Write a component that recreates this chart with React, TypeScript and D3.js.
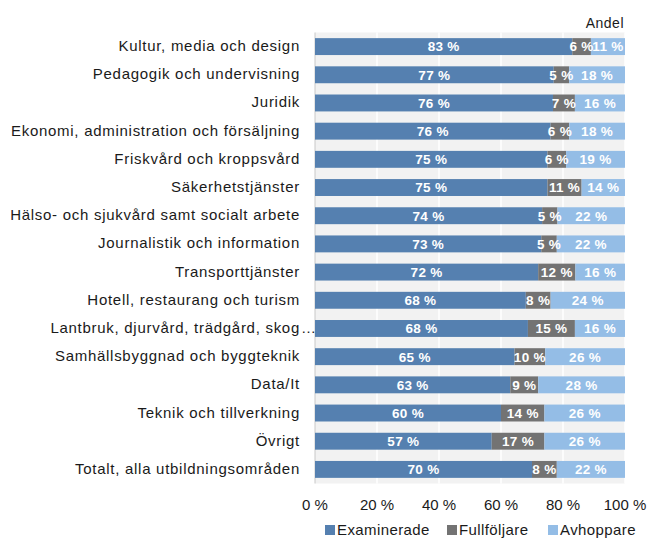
import React from "react";
import * as d3 from "d3";

const categories = [
  "Kultur, media och design",
  "Pedagogik och undervisning",
  "Juridik",
  "Ekonomi, administration och försäljning",
  "Friskvård och kroppsvård",
  "Säkerhetstjänster",
  "Hälso- och sjukvård samt socialt arbete",
  "Journalistik och information",
  "Transporttjänster",
  "Hotell, restaurang och turism",
  "Lantbruk, djurvård, trädgård, skog…",
  "Samhällsbyggnad och byggteknik",
  "Data/It",
  "Teknik och tillverkning",
  "Övrigt",
  "Totalt, alla utbildningsområden",
];
const examinerade = [83, 77, 76, 76, 75, 75, 74, 73, 72, 68, 68, 65, 63, 60, 57, 70];
const fullfoljare = [6, 5, 7, 6, 6, 11, 5, 5, 12, 8, 15, 10, 9, 14, 17, 8];
const avhoppare = [11, 18, 16, 18, 19, 14, 22, 22, 16, 24, 16, 26, 28, 26, 26, 22];
const seriesNames = ["Examinerade", "Fullföljare", "Avhoppare"];
const colors = ["#5580b0", "#737373", "#94bde6"];
const xTicks = [0, 20, 40, 60, 80, 100];

const W = 649;
const H = 538;
const left = 315;
const right = 625;
const top = 32.5;
const bottom = 483.5;
const font = "'Liberation Sans', Arial, Helvetica, sans-serif";

export default function App() {
  const x = d3.scaleLinear().domain([0, 100]).range([left, right]);
  const xf = d3.scaleLinear().domain([0, 1]).range([left, right]);
  const y = d3.scaleBand<string>().domain(categories).range([top, bottom]).paddingInner(0.4).paddingOuter(0.2);
  const raw = [examinerade, fullfoljare, avhoppare];
  const rows = categories.map((c, i) => ({
    cat: c,
    Examinerade: examinerade[i],
    Fullföljare: fullfoljare[i],
    Avhoppare: avhoppare[i],
  }));
  const stacked = d3.stack<any>().keys(seriesNames).offset(d3.stackOffsetExpand)(rows);
  const legendX = [325, 447, 548];

  return (
    <svg width={W} height={H} style={{ position: "absolute", left: 0, top: 0, fontFamily: font }}>
      <rect x={left} y={top} width={right - left} height={bottom - top} fill="#f2f2f2" />
      {xTicks.slice(1).map((t) => (
        <line key={t} x1={x(t)} x2={x(t)} y1={top} y2={bottom} stroke="#ffffff" strokeWidth={1.5} />
      ))}
      <line x1={left} x2={left} y1={top} y2={bottom} stroke="#c8c8c8" strokeWidth={1} />
      {stacked.map((s, si) => (
        <g key={s.key}>
          {s.map((d, i) => {
            const x0 = xf(d[0]);
            const x1 = xf(d[1]);
            const yy = y(categories[i])!;
            return <rect key={i} x={x0} y={yy} width={x1 - x0} height={y.bandwidth()} fill={colors[si]} />;
          })}
        </g>
      ))}
      {stacked.map((s, si) => (
        <g key={s.key + "l"}>
          {s.map((d, i) => {
            const x0 = xf(d[0]);
            const x1 = xf(d[1]);
            const yy = y(categories[i])! + y.bandwidth() / 2;
            return (
              <text
                key={i}
                x={(x0 + x1) / 2}
                y={yy}
                dy="0.36em"
                textAnchor="middle"
                fill="#ffffff"
                fontWeight="bold"
                fontSize={13.5}
                letterSpacing={0.3}
              >
                {raw[si][i]} %
              </text>
            );
          })}
        </g>
      ))}
      {categories.map((c) => {
        const trunc = c.endsWith("…");
        const base = trunc ? c.slice(0, -1) : c;
        const cy = y(c)! + y.bandwidth() / 2;
        return (
          <g key={c}>
            <text x={300} y={cy} dy="0.3em" textAnchor="end" fontSize={15} letterSpacing={0.72} fill="#1a1a1a">
              {base}
            </text>
            {trunc && (
              <text x={301} y={cy} dy="0.3em" fontSize={15} fill="#1a1a1a">
                …
              </text>
            )}
          </g>
        );
      })}
      {xTicks.map((t) => (
        <text key={t} x={x(t)} y={510} textAnchor="middle" fontSize={15} fill="#1a1a1a">
          {t} %
        </text>
      ))}
      <text x={624} y={27.5} textAnchor="end" fontSize={14} letterSpacing={0.5} fill="#1a1a1a">
        Andel
      </text>
      {seriesNames.map((n, i) => (
        <g key={n}>
          <rect x={legendX[i]} y={525} width={10} height={10} fill={colors[i]} />
          <text x={legendX[i] + 12} y={535} fontSize={15} letterSpacing={0.4} fill="#1a1a1a">
            {n}
          </text>
        </g>
      ))}
    </svg>
  );
}
